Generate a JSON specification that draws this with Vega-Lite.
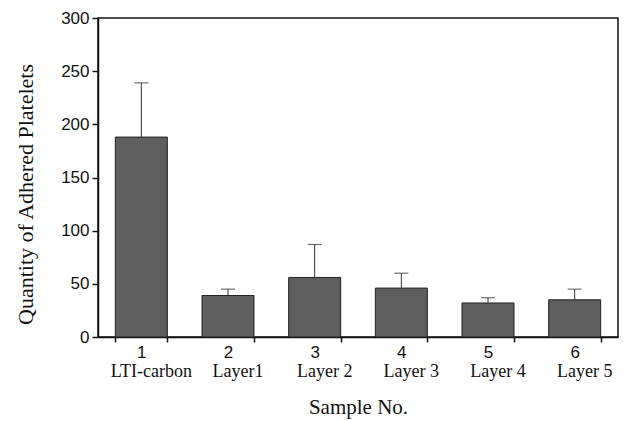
{
  "$schema": "https://vega.github.io/schema/vega-lite/v6.json",
  "width": 520,
  "height": 319,
  "autosize": "none",
  "padding": {"left": 98, "top": 18, "right": 6, "bottom": 84},
  "background": "white",
  "config": {
    "view": {"stroke": "#111", "strokeWidth": 1.5},
    "axis": {"domainColor": "#111", "domainWidth": 1.5, "tickColor": "#111", "tickWidth": 1.5, "grid": false, "labelColor": "#111", "titleColor": "#111"}
  },
  "data": {
    "values": [
      {"no": "1", "name": "LTI-carbon", "mean": 188, "upper": 239},
      {"no": "2", "name": "Layer1", "mean": 39, "upper": 45},
      {"no": "3", "name": "Layer 2", "mean": 56, "upper": 87},
      {"no": "4", "name": "Layer 3", "mean": 46, "upper": 60},
      {"no": "5", "name": "Layer 4", "mean": 32, "upper": 37},
      {"no": "6", "name": "Layer 5", "mean": 35, "upper": 45}
    ]
  },
  "encoding": {
    "x": {
      "field": "no", "type": "nominal", "sort": null,
      "scale": {"paddingInner": 0.4, "paddingOuter": 0.2},
      "axis": {
        "title": "Sample No.", "titleFont": "Liberation Serif", "titleFontSize": 21, "titleFontWeight": "normal", "titlePadding": 36,
        "labelFont": "Liberation Sans", "labelFontSize": 17, "labelAngle": 0, "labelPadding": 2,
        "tickBand": "extent", "tickSize": 5
      }
    }
  },
  "layer": [
    {
      "mark": {"type": "bar", "fill": "#5e5e5e", "stroke": "#222", "strokeWidth": 1},
      "encoding": {
        "y": {
          "field": "mean", "type": "quantitative",
          "scale": {"domain": [0, 300], "nice": false},
          "axis": {
            "title": "Quantity of Adhered Platelets", "titleFont": "Liberation Serif", "titleFontSize": 22, "titleFontWeight": "normal", "titlePadding": 23, "titleY": 176,
            "values": [0, 25, 50, 75, 100, 125, 150, 175, 200, 225, 250, 275, 300],
            "labelExpr": "datum.value % 50 === 0 ? datum.label : ''",
            "tickSize": {"condition": {"test": "datum.value % 50 === 0", "value": 6}, "value": 3},
            "labelFont": "Liberation Sans", "labelFontSize": 17, "labelPadding": 3, "orient": "left"
          }
        }
      }
    },
    {
      "mark": {"type": "rule", "color": "#333", "strokeWidth": 1},
      "encoding": {
        "y": {"field": "mean", "type": "quantitative"},
        "y2": {"field": "upper"}
      }
    },
    {
      "mark": {"type": "tick", "color": "#333", "thickness": 1.2, "size": 14},
      "encoding": {
        "y": {"field": "upper", "type": "quantitative"}
      }
    },
    {
      "mark": {"type": "text", "font": "Liberation Serif", "fontSize": 18, "baseline": "alphabetic", "dy": 40, "dx": 10, "color": "#111"},
      "encoding": {
        "y": {"datum": 0, "type": "quantitative"},
        "text": {"field": "name"}
      }
    }
  ]
}
